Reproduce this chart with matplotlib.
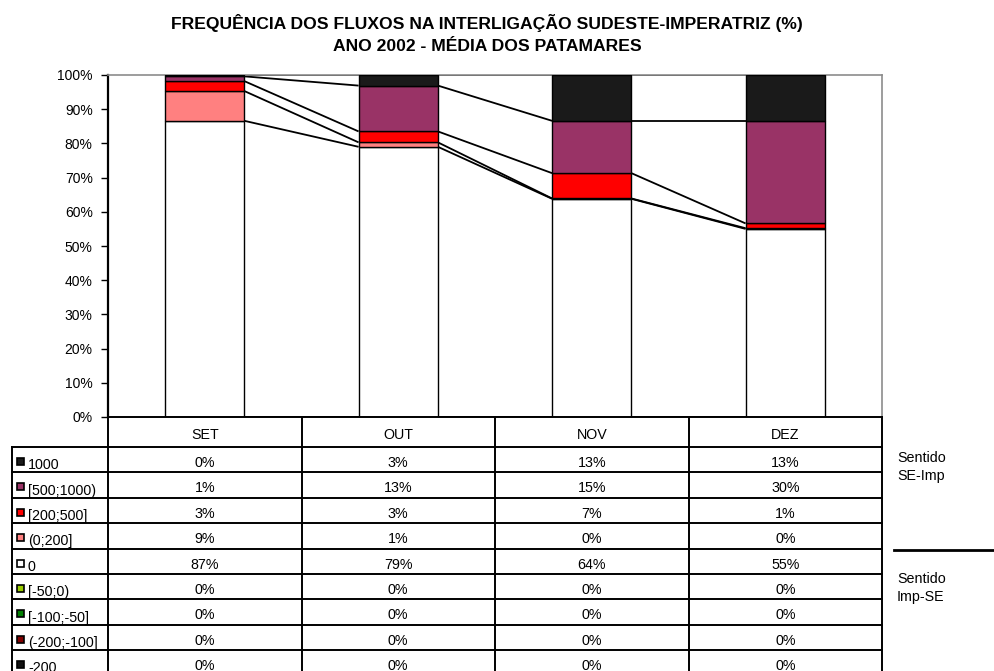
import matplotlib
matplotlib.use("Agg")
import numpy as np
import matplotlib.pyplot as plt
from matplotlib.patches import Rectangle

plt.rcParams["font.family"] = ["Liberation Sans", "DejaVu Sans"]

# ── data ──────────────────────────────────────────────────────────────────────
months = ["SET", "OUT", "NOV", "DEZ"]

# series listed bottom -> top of the stack (values in %)
series_names = ["-200", "(-200;-100]", "[-100;-50]", "[-50;0)", "0",
                "(0;200]", "[200;500]", "[500;1000)", "1000"]
s_m200 = [0.0, 0.0, 0.0, 0.0]
s_m200_m100 = [0.0, 0.0, 0.0, 0.0]
s_m100_m50 = [0.0, 0.0, 0.0, 0.0]
s_m50_0 = [0.0, 0.0, 0.0, 0.0]
s_zero = [86.6, 79.0, 63.8, 55.0]
s_0_200 = [8.7, 1.3, 0.1, 0.2]
s_200_500 = [2.9, 3.2, 7.4, 1.4]
s_500_1000 = [1.4, 13.4, 15.3, 30.0]
s_1000 = [0.4, 3.1, 13.4, 13.4]

series_vals = [s_m200, s_m200_m100, s_m100_m50, s_m50_0, s_zero,
               s_0_200, s_200_500, s_500_1000, s_1000]
series_colors = ["#111111", "#800000", "#008000", "#99CC00", "#FFFFFF",
                 "#FF8080", "#FF0000", "#993366", "#1A1A1A"]

yticks = np.arange(0, 101, 10)

# ── layout (pixels) ───────────────────────────────────────────────────────────
W, H = 994, 671
PX_L, PX_R = 108, 882          # plot area
PX_TOP, PX_BOT = 75, 417
TAB_LEFT = 12
HEADER_BOT = 447
ROW_H = 25.4
BAR_W = 0.41
FS = 10.3

fig = plt.figure(figsize=(W / 100, H / 100), dpi=100)
ax = fig.add_axes([PX_L / W, 1 - PX_BOT / H, (PX_R - PX_L) / W, (PX_BOT - PX_TOP) / H])

x = np.arange(len(months))
bottom = np.zeros(len(months))
tops = []
for vals, col in zip(series_vals, series_colors):
    v = np.array(vals)
    ax.bar(x, v, BAR_W, bottom=bottom, color=col, edgecolor="black",
           linewidth=1.0, zorder=3)
    bottom = bottom + v
    tops.append(bottom.copy())

# series lines between neighbouring bars
for top in tops:
    for i in range(len(months) - 1):
        ax.plot([x[i] + BAR_W / 2, x[i + 1] - BAR_W / 2], [top[i], top[i + 1]],
                color="black", lw=1.3, zorder=2, solid_capstyle="butt")

ax.set_xlim(-0.5, len(months) - 0.5)
ax.set_ylim(0, 100)
ax.set_yticks(yticks)
ax.set_yticklabels([f"{t}%" for t in yticks], fontsize=10)
ax.tick_params(axis="y", direction="out", length=5, width=1, pad=6)
ax.set_xticks([])
ax.spines["left"].set_linewidth(1.6)
ax.spines["bottom"].set_visible(False)
for s in ("top", "right"):
    ax.spines[s].set_color("#8c8c8c")
    ax.spines[s].set_linewidth(1.2)

fig.text(487 / W, 1 - 29.5 / H,
         "FREQUÊNCIA DOS FLUXOS NA INTERLIGAÇÃO SUDESTE-IMPERATRIZ (%)",
         ha="center", va="baseline", fontsize=12.6, fontweight="bold")
fig.text(487 / W, 1 - 51 / H, "ANO 2002 - MÉDIA DOS PATAMARES",
         ha="center", va="baseline", fontsize=12.6, fontweight="bold")

# ── data table (overlay in pixel coordinates) ────────────────────────────────
tab = fig.add_axes([0, 0, 1, 1], zorder=5)
tab.set_xlim(0, W)
tab.set_ylim(H, 0)
tab.axis("off")
tab.patch.set_alpha(0)

col_edges = np.linspace(PX_L, PX_R, len(months) + 1)
table_rows = list(zip(series_names, series_vals, series_colors))[::-1]
row_edges = HEADER_BOT + ROW_H * np.arange(len(table_rows) + 1)
lw = 1.4

# horizontal lines
tab.plot([PX_L, PX_R], [PX_BOT, PX_BOT], color="black", lw=lw)
for y in row_edges:
    tab.plot([TAB_LEFT, PX_R], [y, y], color="black", lw=lw)
# vertical lines
for xe in col_edges:
    tab.plot([xe, xe], [PX_BOT, row_edges[-1]], color="black", lw=lw)
tab.plot([TAB_LEFT, TAB_LEFT], [HEADER_BOT, row_edges[-1]], color="black", lw=lw)

for j, m in enumerate(months):
    cx = (col_edges[j] + col_edges[j + 1]) / 2
    tab.text(cx, (PX_BOT + HEADER_BOT) / 2 + 3, m, ha="center", va="center", fontsize=FS)

for r, (name, vals, col) in enumerate(table_rows):
    y0 = row_edges[r]
    tab.add_patch(Rectangle((TAB_LEFT + 4.5, y0 + 11), 7.5, 7, facecolor=col,
                            edgecolor="black", lw=1.2))
    tab.text(TAB_LEFT + 16, y0 + 18.3, name, ha="left", va="center",
             fontsize=FS)
    for j, v in enumerate(vals):
        cx = (col_edges[j] + col_edges[j + 1]) / 2
        tab.text(cx, y0 + 16, f"{v:.0f}%", ha="center", va="center",
                 fontsize=FS)

# direction annotations
tab.text(897, 458, "Sentido", ha="left", va="center", fontsize=FS)
tab.text(897, 476, "SE-Imp", ha="left", va="center", fontsize=FS)
tab.plot([894, W], [549.5, 549.5], color="black", lw=2)
tab.text(897, 579, "Sentido", ha="left", va="center", fontsize=FS)
tab.text(897, 597, "Imp-SE", ha="left", va="center", fontsize=FS)

fig.savefig("out.png", dpi=100)
